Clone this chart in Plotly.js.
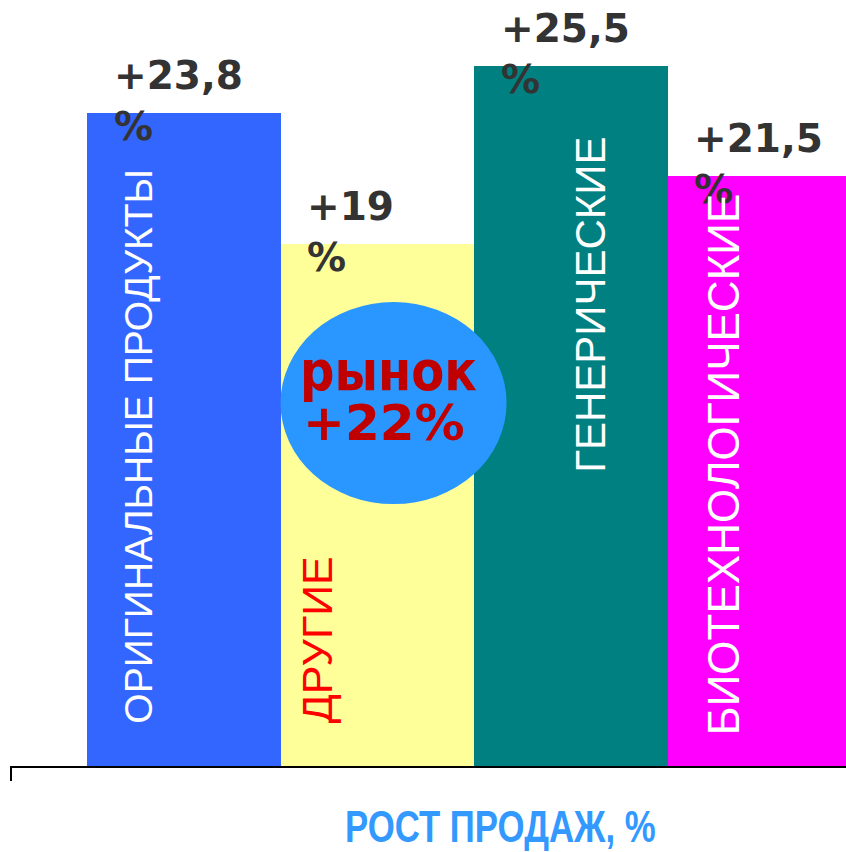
<!DOCTYPE html>
<html>
<head>
<meta charset="utf-8">
<script src="https://cdn.plot.ly/plotly-3.0.1.min.js"></script>
<style>
  html, body { margin: 0; padding: 0; background: #ffffff; }
  #chart { width: 846px; height: 852px; }
  /* narrow the fonts the way the original condensed faces look */
  text.annotation-text[data-unformatted="РОСТ ПРОДАЖ, %"] {
    transform-box: fill-box; transform-origin: center; transform: scaleX(0.79);
  }
  text.annotation-text[data-unformatted="рынок"] {
    transform-box: fill-box; transform-origin: center; transform: scaleX(0.86);
  }
</style>
</head>
<body>
<div id="chart"></div>
<script>
// ---- data ----
const categories = ['ОРИГИНАЛЬНЫЕ ПРОДУКТЫ', 'ДРУГИЕ', 'ГЕНЕРИЧЕСКИЕ', 'БИОТЕХНОЛОГИЧЕСКИЕ'];
const growth = [23.8, 19, 25.5, 21.5];
const valueLabels = ['+23,8<br>%', '+19<br>%', '+25,5<br>%', '+21,5<br>%'];
const barColors = ['#3366FF', '#FFFF99', '#008080', '#FF00FF'];
const categoryTextColors = ['#FFFFFF', '#FF0000', '#FFFFFF', '#FFFFFF'];
const marketWord = 'рынок';
const marketGrowth = '+22%';
const axisTitle = 'РОСТ ПРОДАЖ, %';

// ---- layout helpers (positions/styles, not data) ----
const catTextSizes = [39, 43, 42, 44];
const catTextXShift = [-45, -60, 19, -41];
const catTextYCenter = [11.66, 4.59, 16.79, 10.97];

const trace = {
  type: 'bar',
  x: categories,
  y: growth,
  width: 1,
  marker: { color: barColors, line: { width: 0 } },
  hoverinfo: 'none'
};

const annotations = [];
categories.forEach((c, i) => {
  annotations.push({
    x: c, y: growth[i], xref: 'x', yref: 'y',
    text: valueLabels[i], showarrow: false,
    xanchor: 'left', yanchor: 'top', align: 'left',
    xshift: -72, yshift: 62,
    font: { family: 'DejaVu Sans', size: 39, color: '#333333', weight: 'bold' }
  });
  annotations.push({
    x: c, y: catTextYCenter[i], xref: 'x', yref: 'y',
    text: c, showarrow: false, textangle: -90,
    xanchor: 'center', yanchor: 'middle',
    xshift: catTextXShift[i],
    font: { family: 'Liberation Sans, Arial, sans-serif', size: catTextSizes[i], color: categoryTextColors[i] }
  });
});
annotations.push({
  x: 1.056, y: 14.4, xref: 'x', yref: 'y', text: marketWord, showarrow: false,
  xanchor: 'center', yanchor: 'middle',
  font: { family: 'DejaVu Sans', size: 56, color: '#C00000', weight: 'bold' }
});
annotations.push({
  x: 1.035, y: 12.5, xref: 'x', yref: 'y', text: marketGrowth, showarrow: false,
  xanchor: 'center', yanchor: 'middle',
  font: { family: 'DejaVu Sans', size: 50, color: '#C00000', weight: 'bold' }
});
annotations.push({
  x: 0.587, y: -0.0795, xref: 'paper', yref: 'paper', text: axisTitle, showarrow: false,
  xanchor: 'center', yanchor: 'middle', borderpad: 0,
  font: { family: 'Liberation Sans, Arial, sans-serif', size: 44, color: '#3399FF', weight: 'bold' }
});

const layout = {
  width: 846, height: 852,
  margin: { l: 10, r: 0, t: 0, b: 86 },
  paper_bgcolor: '#FFFFFF', plot_bgcolor: '#FFFFFF',
  showlegend: false,
  bargap: 0,
  xaxis: {
    type: 'category', range: [-0.898, 3.422],
    showline: true, linecolor: '#000000', linewidth: 2,
    showticklabels: false, ticks: '', showgrid: false, zeroline: false, fixedrange: true
  },
  yaxis: {
    range: [0, 27.9], visible: false, showgrid: false, zeroline: false, fixedrange: true
  },
  shapes: [
    { type: 'circle', xref: 'x', yref: 'y', x0: 0.5, x1: 1.668, y0: 9.54, y1: 16.9,
      fillcolor: '#2997FF', line: { width: 0 }, layer: 'above' },
    { type: 'line', xref: 'paper', yref: 'paper', x0: 0.0012, x1: 0.0012, y0: 0, y1: -0.0196,
      line: { color: '#000000', width: 2 } }
  ],
  annotations: annotations
};

Plotly.newPlot('chart', [trace], layout, { displayModeBar: false, staticPlot: true });
</script>
</body>
</html>
